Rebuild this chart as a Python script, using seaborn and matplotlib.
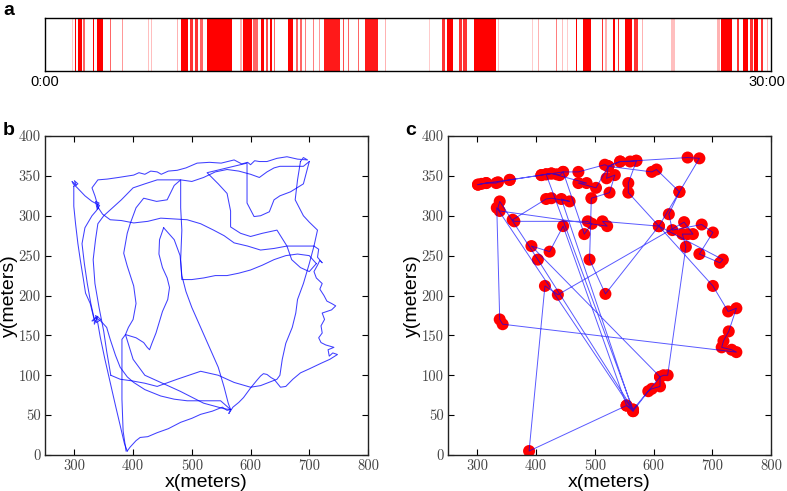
import numpy as np
import pandas as pd
import matplotlib
matplotlib.use("Agg")
import matplotlib.pyplot as plt
import seaborn as sns

# panel a: activity events on a 0-30 min timeline (start, end in minutes, opacity)
event_start = [1.12, 1.22, 1.36, 1.57, 1.98, 2.15, 2.69, 3.18, 4.26, 4.38, 5.45, 5.62, 5.99, 6.20, 6.40,
               6.69, 8.06, 8.18, 8.60, 8.93, 9.13, 9.30, 9.46, 10.04, 10.37, 10.54, 10.74, 11.07, 11.32,
               11.53, 12.31, 12.52, 12.93, 13.22, 14.05, 15.87, 16.40, 16.61, 17.11, 17.27, 17.73, 18.72,
               20.12, 20.37, 21.11, 21.36, 21.57, 21.94, 22.23, 23.01, 23.14, 23.47, 23.68, 23.97, 24.34,
               24.67, 25.87, 27.77, 27.93, 28.60, 28.84, 29.13, 29.30, 29.59, 29.83]
event_end = [1.16, 1.28, 1.53, 1.65, 2.02, 2.40, 2.73, 3.22, 4.30, 4.42, 5.49, 5.91, 6.12, 6.32, 6.53,
             7.73, 8.14, 8.55, 8.80, 9.05, 9.21, 9.38, 9.50, 10.25, 10.45, 10.62, 10.78, 11.11, 11.36,
             12.19, 12.35, 12.56, 12.97, 13.76, 14.09, 15.91, 16.53, 16.86, 17.23, 17.44, 18.64, 18.76,
             20.16, 20.41, 21.15, 21.40, 21.61, 21.98, 22.56, 23.06, 23.22, 23.55, 23.72, 24.26, 24.50,
             24.71, 26.03, 27.89, 28.39, 28.68, 29.05, 29.26, 29.46, 29.67, 29.88]
event_alpha = [0.2, 1, 1, 0.6, 1, 1, 0.6, 0.4, 0.25, 0.25, 0.3, 1, 0.8, 0.8, 0.6,
               1, 0.3, 1, 0.6, 1, 0.7, 1, 0.6, 1, 0.6, 0.6, 0.5, 0.5, 0.4,
               0.9, 0.7, 0.6, 0.6, 0.9, 0.3, 0.2, 0.8, 1, 0.8, 0.8, 1, 0.25,
               0.2, 0.3, 0.5, 0.25, 0.2, 1, 1, 0.8, 0.3, 1, 0.8, 1, 0.8,
               0.3, 0.25, 0.3, 1, 0.8, 1, 0.8, 1, 0.8, 0.3]

# panel b: raw trajectory, traced as legs of waypoints (x, y in meters)
b_leg1 = [(390, 5), (395, 10), (405, 18), (412, 22), (425, 23), (441, 28), (460, 33), (481, 41), (500, 46),
          (515, 51), (535, 55), (552, 60), (560, 56), (566, 57), (563, 52), (570, 60), (580, 66), (588, 72),
          (594, 78), (600, 84), (610, 93), (617, 99), (622, 102), (628, 101), (635, 97), (640, 95), (651, 85),
          (660, 86), (672, 95), (685, 103), (700, 108), (720, 115), (735, 120), (748, 126), (740, 128),
          (734, 124), (732, 132), (742, 135), (728, 138), (720, 141), (716, 147), (722, 153), (720, 162),
          (726, 170), (722, 178), (730, 180), (738, 182), (745, 187), (738, 190), (730, 193), (725, 200),
          (718, 208), (722, 215), (712, 222), (708, 230), (714, 238), (718, 244), (722, 241), (714, 248),
          (716, 258), (708, 262)]
b_leg2 = [(708, 262), (680, 262), (662, 262), (640, 259), (617, 257), (595, 262), (572, 266), (555, 275),
          (537, 282), (515, 290), (492, 295), (470, 296), (447, 297), (425, 293), (401, 291), (380, 294),
          (361, 295), (348, 302), (339, 312), (342, 316), (336, 318), (339, 308), (343, 313), (330, 318),
          (318, 325), (305, 335), (298, 340), (296, 343), (303, 338), (300, 344), (306, 340), (299, 337)]
b_leg3 = [(299, 337), (299, 312), (302, 290), (306, 265), (310, 245), (315, 222), (319, 203), (327, 190),
          (333, 172), (338, 166), (345, 170), (336, 175), (340, 165), (344, 148), (352, 120), (361, 91),
          (370, 62), (378, 37), (385, 15), (390, 5)]
b_leg4 = [(388, 5), (383, 30), (381, 70), (381, 110), (381, 145), (387, 151), (405, 147), (418, 141),
          (424, 135), (428, 132), (432, 140), (439, 153), (450, 180), (459, 195), (462, 210), (458, 222),
          (450, 235), (444, 252), (445, 270), (452, 285)]
b_leg5 = [(452, 285), (470, 270), (480, 250), (483, 225), (490, 205), (500, 185), (515, 160), (530, 135),
          (545, 110), (555, 85), (562, 65), (566, 57)]
b_leg6 = [(566, 57), (549, 68), (520, 68), (492, 68), (470, 70), (447, 74), (420, 82), (401, 91), (390, 98),
          (378, 110), (370, 125), (361, 145), (355, 160), (345, 168), (336, 172), (330, 168), (340, 174),
          (334, 164), (334, 170), (328, 190), (322, 215), (317, 240), (313, 265), (318, 285), (330, 300),
          (337, 306), (341, 310)]
b_leg7 = [(341, 310), (335, 325), (330, 335), (340, 345), (356, 346), (375, 348), (401, 351), (410, 354),
          (420, 352), (430, 356), (441, 355), (448, 352), (460, 356), (475, 357), (490, 360), (509, 366),
          (530, 367), (550, 366), (572, 370), (585, 365), (595, 367), (600, 364), (607, 369), (615, 368),
          (628, 368), (645, 372), (662, 374), (680, 371), (697, 370), (690, 373), (685, 368)]
b_leg8 = [(685, 368), (680, 345), (676, 320), (690, 300), (700, 292), (714, 282), (708, 262), (700, 240),
          (690, 215), (680, 195), (677, 178), (671, 160), (660, 140), (654, 120), (650, 100), (645, 95),
          (617, 87), (600, 85), (572, 91), (545, 100), (515, 105), (495, 100), (475, 95), (441, 86),
          (420, 90), (398, 93), (378, 95), (362, 100)]
b_leg9 = [(362, 100), (355, 130), (350, 155), (342, 185), (335, 215), (332, 245), (336, 270), (340, 290),
          (350, 300), (380, 320), (400, 335), (420, 340), (441, 345), (460, 345), (481, 345), (500, 343),
          (520, 348), (540, 355), (560, 358), (580, 356), (600, 352), (615, 348), (628, 355), (640, 360),
          (650, 362), (665, 362), (690, 362), (700, 368)]
b_leg10 = [(700, 368), (690, 340), (668, 330), (650, 325), (640, 320), (632, 305), (617, 300), (606, 299),
           (594, 316), (594, 340), (594, 366), (560, 360), (526, 354), (545, 340), (560, 328), (566, 306),
           (566, 286), (583, 278), (600, 274), (620, 278), (645, 282), (662, 262), (670, 245), (685, 235),
           (700, 230), (712, 240)]
b_leg11 = [(712, 240), (700, 250), (680, 252), (660, 250), (640, 245), (620, 238), (600, 232), (580, 228),
           (560, 225), (540, 225), (520, 222), (500, 220), (483, 220), (481, 245), (483, 282), (481, 310),
           (481, 345), (470, 338), (458, 320), (440, 318), (418, 322), (405, 310), (395, 290), (390, 278),
           (384, 253), (390, 237), (401, 212), (405, 190), (400, 170), (392, 160), (387, 151), (400, 120),
           (420, 100), (450, 90), (480, 80), (520, 65), (555, 58), (566, 57)]

# panel c: detected stay points, in visiting order (x, y in meters)
c_x = [301, 307, 315, 332, 335, 355, 409, 417, 426, 435, 440, 446, 472, 517, 523, 543, 560, 571, 557, 557,
       609, 518, 491, 494, 525, 534, 520, 523, 597, 605, 644, 609, 701, 727, 741, 728, 719, 716, 733, 741,
       343, 338, 333, 565, 591, 597, 611, 611, 617, 624, 655, 649, 658, 667, 652, 437, 415, 388, 554, 565,
       417, 426, 486, 472, 502, 523, 543, 570, 658, 678, 644, 626, 632, 682, 701, 678, 713, 718, 609, 513,
       521, 338, 335, 338, 403, 565, 611, 392, 423, 446, 554, 565, 443, 457, 426, 417, 360, 363, 488, 495,
       482, 446, 409, 355, 315, 301]
c_y = [339, 340, 341, 341, 342, 345, 351, 352, 353, 352, 351, 355, 355, 364, 362, 368, 368, 369, 341, 329,
       287, 202, 245, 322, 329, 351, 347, 362, 355, 358, 330, 287, 212, 180, 184, 155, 143, 135, 132, 129,
       164, 170, 310, 55, 80, 83, 86, 98, 100, 100, 261, 277, 277, 277, 292, 201, 212, 5, 62, 57,
       352, 353, 341, 341, 335, 362, 368, 369, 373, 372, 330, 302, 282, 289, 279, 252, 241, 245, 287, 293,
       287, 306, 310, 318, 245, 57, 98, 262, 255, 287, 62, 55, 321, 318, 322, 321, 295, 293, 293, 290,
       277, 355, 351, 345, 341, 339]

x_ticks = [300, 400, 500, 600, 700, 800]
y_ticks = [0, 50, 100, 150, 200, 250, 300, 350, 400]

fig = plt.figure(figsize=(7.87, 4.91), dpi=100)
ax_a = fig.add_axes([0.0572, 0.8554, 0.9225, 0.108])
ax_b = fig.add_axes([0.0572, 0.0733, 0.4104, 0.6497])
ax_c = fig.add_axes([0.5693, 0.0733, 0.4104, 0.6497])

# a
for s, e, al in zip(event_start, event_end, event_alpha):
    ax_a.axvspan(s, e, color="red", alpha=al, lw=0)
ax_a.set_xlim(0, 30)
ax_a.set_ylim(0, 1)
ax_a.set_xticks([])
ax_a.set_yticks([])
for sp in ax_a.spines.values():
    sp.set_linewidth(1.0)
ax_a.text(0, -0.08, "0:00", ha="center", va="top", fontsize=10.5, family="Liberation Sans")
fig.text(0.998, 0.8554 - 0.0085, "30:00", ha="right", va="top", fontsize=10.5, family="Liberation Sans")

# b
legs = [b_leg1, b_leg2, b_leg3, b_leg4, b_leg5, b_leg6, b_leg7, b_leg8, b_leg9, b_leg10, b_leg11]
rows = []
for i, leg in enumerate(legs):
    for j, (x, y) in enumerate(leg):
        rows.append({"leg": i, "order": j, "x": x, "y": y})
df_b = pd.DataFrame(rows)
sns.lineplot(data=df_b, x="x", y="y", units="leg", estimator=None, sort=False,
             color="blue", lw=0.75, alpha=0.75, ax=ax_b)

# c
df_c = pd.DataFrame({"x": c_x, "y": c_y})
sns.scatterplot(data=df_c, x="x", y="y", color="red", s=75, edgecolor="none", ax=ax_c, zorder=2)
sns.lineplot(data=df_c, x="x", y="y", estimator=None, sort=False,
             color="blue", lw=0.7, alpha=0.65, ax=ax_c, zorder=3)

for ax in (ax_b, ax_c):
    ax.set_xlim(250, 800)
    ax.set_ylim(0, 400)
    ax.set_xticks(x_ticks)
    ax.set_yticks(y_ticks)
    ax.set_xticklabels([str(t) for t in x_ticks], family="cmr10", fontsize=10.5, color="#444444")
    ax.set_yticklabels([str(t) for t in y_ticks], family="cmr10", fontsize=10.5, color="#444444")
    ax.tick_params(direction="in", top=True, right=True, length=4, width=0.8, pad=3)
    ax.set_xlabel("x(meters)", fontsize=14, family="Liberation Sans", labelpad=1)
    ax.set_ylabel("y(meters)", fontsize=14, family="Liberation Sans")
    ax.yaxis.set_label_coords(-0.085, 0.5)
    for sp in ax.spines.values():
        sp.set_linewidth(1.0)
        sp.set_color("#222222")

fig.text(0.004, 0.995, "a", fontsize=14, fontweight="bold", family="Liberation Sans", va="top")
fig.text(0.004, 0.752, "b", fontsize=14, fontweight="bold", family="Liberation Sans", va="top")
fig.text(0.515, 0.752, "c", fontsize=14, fontweight="bold", family="Liberation Sans", va="top")

fig.savefig("out.png", dpi=100)
